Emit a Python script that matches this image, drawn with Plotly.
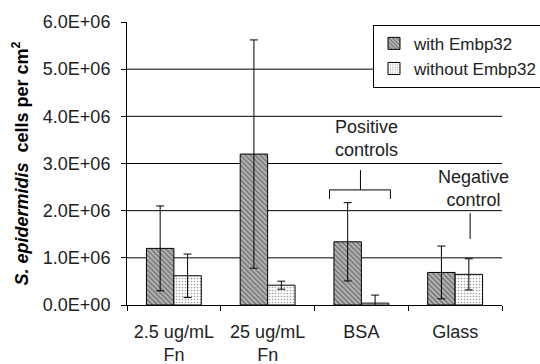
import plotly.graph_objects as go

categories = ["2.5 ug/mL<br>Fn", "25 ug/mL<br>Fn", "BSA", "Glass"]
with_vals = [1.2e6, 3.2e6, 1.34e6, 0.69e6]
with_err = [0.9e6, 2.42e6, 0.83e6, 0.56e6]
without_vals = [0.62e6, 0.42e6, 0.04e6, 0.65e6]
without_err = [0.46e6, 0.085e6, 0.17e6, 0.33e6]
ytick_vals = [0, 1e6, 2e6, 3e6, 4e6, 5e6, 6e6]
ytick_text = ["0.0E+00", "1.0E+06", "2.0E+06", "3.0E+06", "4.0E+06", "5.0E+06", "6.0E+06"]
grid_vals = [1e6, 2e6, 3e6, 4e6, 5e6]

FONT = "Arial, Liberation Sans, sans-serif"
TXT = "#222222"

fig = go.Figure()
fig.add_trace(go.Bar(
    x=categories, y=with_vals, name="with Embp32",
    marker=dict(color="white", line=dict(color="black", width=1),
                pattern=dict(shape="\\", size=3.5, solidity=0.8, fgcolor="black", bgcolor="white")),
    error_y=dict(type="data", array=with_err, color="black", thickness=1, width=4),
))
fig.add_trace(go.Bar(
    x=categories, y=without_vals, name="without Embp32",
    marker=dict(color="white", line=dict(color="black", width=1),
                pattern=dict(shape=".", size=3, solidity=0.25, fgcolor="#444444", bgcolor="white")),
    error_y=dict(type="data", array=without_err, color="black", thickness=1, width=4),
))

shapes = []
for g in grid_vals:
    shapes.append(dict(type="line", xref="paper", yref="y", x0=0, x1=1, y0=g, y1=g,
                       line=dict(color="black", width=1), layer="below"))
bl = dict(color="black", width=1)
shapes += [
    dict(type="line", xref="x", yref="y", x0=1.66, x1=2.31, y0=2.44e6, y1=2.44e6, line=bl),
    dict(type="line", xref="x", yref="y", x0=1.66, x1=1.66, y0=2.44e6, y1=2.25e6, line=bl),
    dict(type="line", xref="x", yref="y", x0=2.31, x1=2.31, y0=2.44e6, y1=2.25e6, line=bl),
    dict(type="line", xref="x", yref="y", x0=1.99, x1=1.99, y0=2.44e6, y1=2.86e6, line=bl),
    dict(type="line", xref="x", yref="y", x0=3.16, x1=3.16, y0=1.40e6, y1=1.95e6, line=bl),
]

annotations = [
    dict(x=1.70, y=3.53e6, xref="x", yref="y", text="Positive<br>controls", showarrow=False,
         xanchor="left", yanchor="middle", align="left", font=dict(family=FONT, size=18, color=TXT)),
    dict(x=3.2, y=2.47e6, xref="x", yref="y", text="Negative<br>control", showarrow=False,
         xanchor="center", yanchor="middle", align="center", font=dict(family=FONT, size=18, color=TXT)),
]

fig.update_layout(
    width=540, height=364,
    margin=dict(l=127, r=38, t=22, b=59, autoexpand=False),
    paper_bgcolor="white", plot_bgcolor="white",
    barmode="group", bargap=0.415, bargroupgap=0,
    font=dict(family=FONT, size=18, color=TXT),
    shapes=shapes, annotations=annotations,
    legend=dict(x=0.656, y=0.99, xanchor="left", yanchor="top",
                bordercolor="black", borderwidth=1, bgcolor="white",
                font=dict(family=FONT, size=17, color=TXT),
                tracegroupgap=0, itemwidth=30),
    showlegend=True,
)
fig.update_xaxes(
    type="category", range=[-0.5, 3.5], showline=True, linecolor="black", linewidth=1,
    ticks="outside", tickson="boundaries", ticklen=5, tickcolor="black",
    showgrid=False, tickfont=dict(family=FONT, size=18, color=TXT),
    ticklabelstandoff=10, tickangle=0, automargin=False,
)
fig.update_yaxes(
    range=[0, 6e6], tickvals=ytick_vals, ticktext=ytick_text,
    showline=True, linecolor="black", linewidth=1, ticks="outside", ticklen=5, tickcolor="black",
    showgrid=False, zeroline=False, tickfont=dict(family=FONT, size=18, color=TXT),
    ticklabelstandoff=7, automargin=False,
    title=dict(text="<b><i>S. epidermidis</i>  cells per cm<sup>2</sup></b>",
               font=dict(family=FONT, size=18, color="black"), standoff=9),
)
fig.write_html("out.html", config={"displayModeBar": False},
               post_script="document.body.style.margin='0';document.body.style.padding='0';document.documentElement.style.overflow='hidden';")
